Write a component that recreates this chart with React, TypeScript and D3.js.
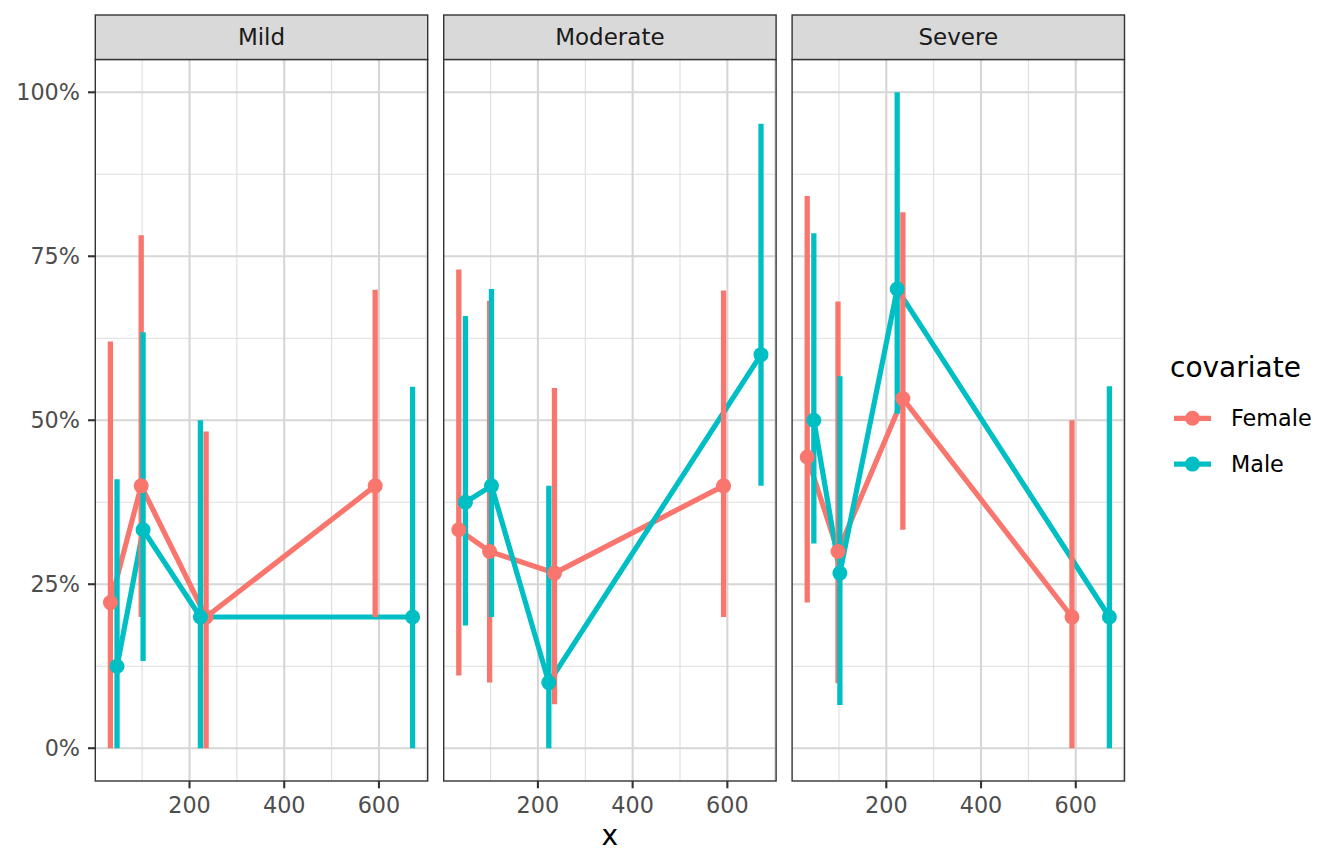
import React, { useEffect } from 'react';
import * as d3 from 'd3';

// facets and groups
const severities = ['Mild', 'Moderate', 'Severe'];
const covariates = ['Female', 'Male'];
const groupColors = ['#F8766D', '#00BFC4'];

// x position of each point, per covariate (same in every facet)
const xFemale = [33, 98, 235, 592];
const xMale = [47, 102, 223, 671];

// estimates with lower / upper bounds, per facet
const mildFemale = [0.222, 0.4, 0.2, 0.4];
const mildFemaleLo = [0, 0.2, 0, 0.2];
const mildFemaleHi = [0.62, 0.782, 0.483, 0.699];
const mildMale = [0.125, 0.333, 0.2, 0.2];
const mildMaleLo = [0, 0.133, 0, 0];
const mildMaleHi = [0.41, 0.634, 0.5, 0.551];

const moderateFemale = [0.333, 0.3, 0.267, 0.4];
const moderateFemaleLo = [0.111, 0.1, 0.067, 0.2];
const moderateFemaleHi = [0.73, 0.682, 0.549, 0.698];
const moderateMale = [0.375, 0.4, 0.1, 0.6];
const moderateMaleLo = [0.187, 0.2, 0, 0.4];
const moderateMaleHi = [0.659, 0.7, 0.4, 0.952];

const severeFemale = [0.444, 0.3, 0.533, 0.2];
const severeFemaleLo = [0.222, 0.099, 0.333, 0];
const severeFemaleHi = [0.842, 0.681, 0.817, 0.5];
const severeMale = [0.5, 0.267, 0.7, 0.2];
const severeMaleLo = [0.312, 0.066, 0.51, 0];
const severeMaleHi = [0.785, 0.567, 1.0, 0.552];

const xTicks = [200, 400, 600];
const xMinor = [100, 300, 500, 700];
const yTicks = [0, 0.25, 0.5, 0.75, 1];
const yMinor = [0.125, 0.375, 0.625, 0.875];

interface Pt { x: number; y: number; lo: number; hi: number; }

const build = (xs: number[], est: number[], lo: number[], hi: number[]): Pt[] =>
  xs.map((x, i) => ({ x, y: est[i], lo: lo[i], hi: hi[i] }));

const facetData: Pt[][][] = [
  [build(xFemale, mildFemale, mildFemaleLo, mildFemaleHi), build(xMale, mildMale, mildMaleLo, mildMaleHi)],
  [build(xFemale, moderateFemale, moderateFemaleLo, moderateFemaleHi), build(xMale, moderateMale, moderateMaleLo, moderateMaleHi)],
  [build(xFemale, severeFemale, severeFemaleLo, severeFemaleHi), build(xMale, severeMale, severeMaleLo, severeMaleHi)],
];

const W = 1344;
const H = 865;
const font = '"DejaVu Sans", Verdana, sans-serif';

const panelLeft = 95.3;
const panelWidth = 332.4;
const panelGap = 16;
const stripTop = 15;
const panelTop = 59.5;
const panelBottom = 781;

const App: React.FC = () => {
  useEffect(() => {
    document.body.style.margin = '0';
  }, []);

  // scales with ggplot-like 5% expansion
  const allX = [...xFemale, ...xMale];
  const [xMin, xMax] = d3.extent(allX) as [number, number];
  const xPad = (xMax - xMin) * 0.05;
  const x = d3.scaleLinear().domain([xMin - xPad, xMax + xPad]).range([0, panelWidth]);
  const y = d3.scaleLinear().domain([-0.05, 1.05]).range([panelBottom, panelTop]);
  const pct = d3.format('.0%');
  const line = d3.line<Pt>().x(d => x(d.x)).y(d => y(d.y));

  const inX = (v: number) => v >= x.domain()[0] && v <= x.domain()[1];

  return (
    <svg width={W} height={H} style={{ display: 'block', background: '#fff' }} fontFamily={font}>
      <rect x={0} y={0} width={W} height={H} fill="#fff" />
      {severities.map((sev, f) => {
        const left = panelLeft + f * (panelWidth + panelGap);
        return (
          <g key={sev} transform={`translate(${left},0)`}>
            {/* grid */}
            {yMinor.map(v => (
              <line key={'ym' + v} x1={0} x2={panelWidth} y1={y(v)} y2={y(v)} stroke="#DEDEDE" strokeWidth={1.1} />
            ))}
            {xMinor.filter(inX).map(v => (
              <line key={'xm' + v} x1={x(v)} x2={x(v)} y1={panelTop} y2={panelBottom} stroke="#DEDEDE" strokeWidth={1.1} />
            ))}
            {yTicks.map(v => (
              <line key={'yM' + v} x1={0} x2={panelWidth} y1={y(v)} y2={y(v)} stroke="#D6D6D6" strokeWidth={2.1} />
            ))}
            {xTicks.map(v => (
              <line key={'xM' + v} x1={x(v)} x2={x(v)} y1={panelTop} y2={panelBottom} stroke="#D6D6D6" strokeWidth={2.1} />
            ))}

            {/* lines */}
            {facetData[f].map((pts, g) => (
              <path key={'l' + g} d={line(pts) || ''} fill="none" stroke={groupColors[g]} strokeWidth={5.2} strokeLinejoin="round" />
            ))}
            {/* error bars */}
            {facetData[f].map((pts, g) => pts.map((d, i) => (
              <line key={'e' + g + i} x1={x(d.x)} x2={x(d.x)} y1={y(d.lo)} y2={y(d.hi)} stroke={groupColors[g]} strokeWidth={5.3} />
            )))}
            {/* points */}
            {facetData[f].map((pts, g) => pts.map((d, i) => (
              <circle key={'p' + g + i} cx={x(d.x)} cy={y(d.y)} r={7.5} fill={groupColors[g]} />
            )))}

            {/* panel border */}
            <rect x={0} y={panelTop} width={panelWidth} height={panelBottom - panelTop} fill="none" stroke="#333333" strokeWidth={1.4} />
            {/* strip */}
            <rect x={0} y={stripTop} width={panelWidth} height={panelTop - stripTop} fill="#D9D9D9" stroke="#333333" strokeWidth={1.4} />
            <text x={panelWidth / 2} y={(stripTop + panelTop) / 2} dy="0.32em" textAnchor="middle" fontSize={23} fill="#1A1A1A">{sev}</text>

            {/* x axis */}
            {xTicks.map(v => (
              <g key={'xt' + v}>
                <line x1={x(v)} x2={x(v)} y1={panelBottom} y2={panelBottom + 7.3} stroke="#333333" strokeWidth={2.1} />
                <text x={x(v)} y={812.7} textAnchor="middle" fontSize={22.3} fill="#4D4D4D">{v}</text>
              </g>
            ))}
          </g>
        );
      })}

      {/* y axis on first panel */}
      {yTicks.map(v => (
        <g key={'yt' + v}>
          <line x1={panelLeft - 7.3} x2={panelLeft} y1={y(v)} y2={y(v)} stroke="#333333" strokeWidth={2.1} />
          <text x={80} y={y(v)} dy="0.36em" textAnchor="end" fontSize={22.3} fill="#4D4D4D">{pct(v)}</text>
        </g>
      ))}

      {/* axis title */}
      <text x={panelLeft + (3 * panelWidth + 2 * panelGap) / 2} y={845} textAnchor="middle" fontSize={28} fill="#000">x</text>

      {/* legend */}
      <text x={1170} y={377} fontSize={28} fill="#000">covariate</text>
      {covariates.map((c, g) => {
        const cy = 418.3 + g * 45.8;
        return (
          <g key={c}>
            <line x1={1174} x2={1211} y1={cy} y2={cy} stroke={groupColors[g]} strokeWidth={5.3} />
            <circle cx={1192.5} cy={cy} r={7.5} fill={groupColors[g]} />
            <text x={1231} y={cy} dy="0.36em" fontSize={22.3} fill="#000">{c}</text>
          </g>
        );
      })}
    </svg>
  );
};

export default App;
